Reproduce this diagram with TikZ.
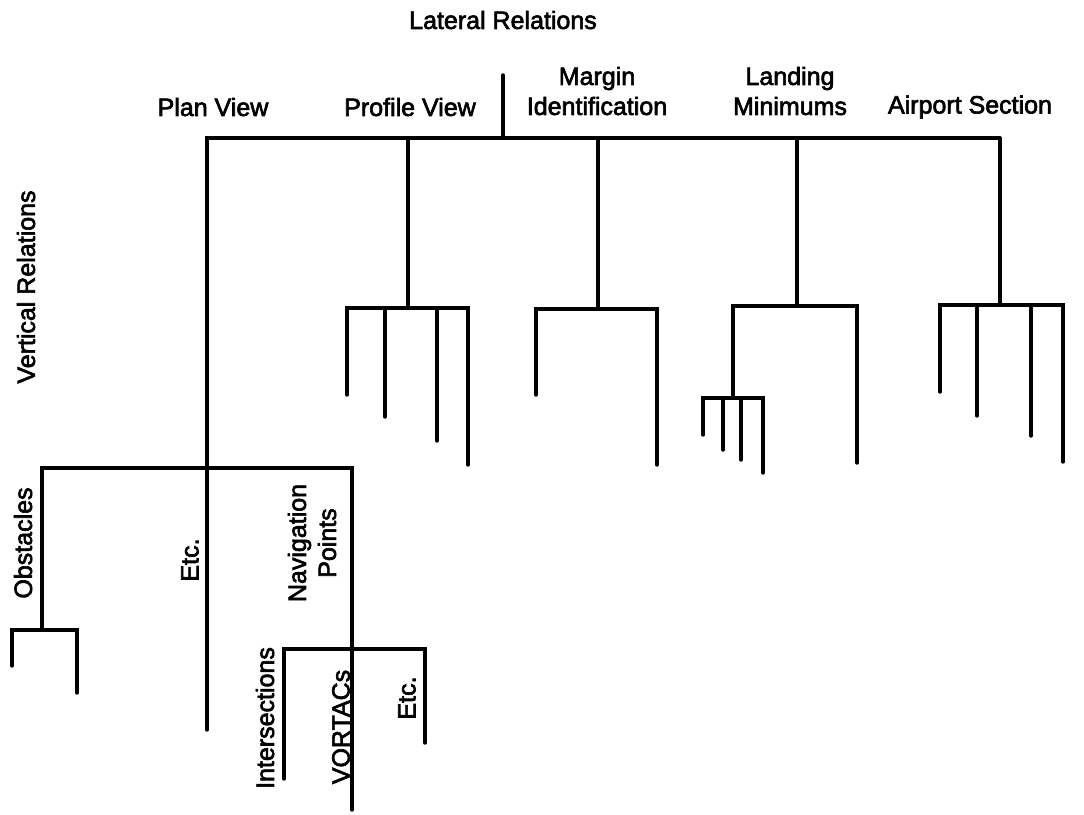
\documentclass[tikz,border=0pt]{standalone}
\usepackage{fontspec}
\setmainfont{Liberation Sans}
\newfontfamily\lblfont[FakeBold=2.5]{Liberation Sans}
\begin{document}
\begin{tikzpicture}[x=1pt,y=-1pt,
  lbl/.style={inner sep=0pt, font=\lblfont\fontsize{25}{30}\selectfont, align=center},
  vlbl/.style={lbl, rotate=90},
  br/.style={line width=3.4pt, line cap=round}]
\useasboundingbox (0,0) rectangle (1084,814);
% labels
\node[lbl] (lat) at (503,20) {Lateral Relations};
\node[lbl] (plan) at (213,107) {Plan View};
\node[lbl] (prof) at (410,107) {Profile View};
\node[lbl] (marg) at (597,91) {Margin\\Identification};
\node[lbl] (land) at (790,91) {Landing\\Minimums};
\node[lbl] (airp) at (970,107) {Airport Section};
\node[vlbl] (vert) at (26,287) {Vertical Relations};
\node[vlbl] (obst) at (23,543) {Obstacles};
\node[vlbl] (etc1) at (190,560) {Etc.};
\node[vlbl] (navp) at (312,543) {Navigation\\Points};
\node[vlbl] (inter) at (265,718) {Intersections};
\node[vlbl] (vort) at (341,727) {VORTACs};
\node[vlbl] (etc2) at (407,698) {Etc.};
% tree coordinates
\coordinate (root) at (503,75);
\coordinate (rootJ) at (503,138);
\coordinate (mL) at (207,138);
\coordinate (mR) at (1000,138);
% plan view
\coordinate (pvEnd) at (207,730);
\coordinate (pvJ) at (207,468);
\coordinate (bL) at (42,468);
\coordinate (bR) at (352,468);
\coordinate (obJ) at (42,630);
\coordinate (obL) at (12,630);
\coordinate (obR) at (77,630);
\coordinate (obLe) at (12,666);
\coordinate (obRe) at (77,693);
\coordinate (navJ) at (352,649);
\coordinate (navEnd) at (352,810);
\coordinate (nvL) at (284,649);
\coordinate (nvR) at (425,649);
\coordinate (nvLe) at (284,779);
\coordinate (nvRe) at (425,743);
% profile view
\coordinate (prT) at (408,138);
\coordinate (prJ) at (408,308);
\coordinate (pr1) at (347,308); \coordinate (pr1e) at (347,395);
\coordinate (pr2) at (385,308); \coordinate (pr2e) at (385,417);
\coordinate (pr3) at (437,308); \coordinate (pr3e) at (437,441);
\coordinate (pr4) at (468,308); \coordinate (pr4e) at (468,465);
% margin identification
\coordinate (maT) at (598,138);
\coordinate (maJ) at (598,309);
\coordinate (ma1) at (536,309); \coordinate (ma1e) at (536,395);
\coordinate (ma2) at (657,309); \coordinate (ma2e) at (657,465);
% landing minimums
\coordinate (laT) at (797,138);
\coordinate (laJ) at (797,306);
\coordinate (la1) at (733,306); \coordinate (la1J) at (733,398);
\coordinate (la2) at (857,306); \coordinate (la2e) at (857,463);
\coordinate (ls1) at (703,398); \coordinate (ls1e) at (703,435);
\coordinate (ls2) at (723,398); \coordinate (ls2e) at (723,450);
\coordinate (ls3) at (741,398); \coordinate (ls3e) at (741,460);
\coordinate (ls4) at (763,398); \coordinate (ls4e) at (763,473);
% airport section
\coordinate (apT) at (1000,138);
\coordinate (apJ) at (1000,305);
\coordinate (ap1) at (940,305); \coordinate (ap1e) at (940,392);
\coordinate (ap2) at (977,305); \coordinate (ap2e) at (977,416);
\coordinate (ap3) at (1031,305); \coordinate (ap3e) at (1031,436);
\coordinate (ap4) at (1063,305); \coordinate (ap4e) at (1063,462);
% connectors
\draw[br] (root) -- (rootJ);
\draw[br] (pvEnd) -- (mL) -- (mR);
\draw[br] (obJ) -- (bL) -- (bR) -- (navEnd);
\draw[br] (obLe) -- (obL) -- (obR) -- (obRe);
\draw[br] (nvLe) -- (nvL) -- (nvR) -- (nvRe);
\draw[br] (prT) -- (prJ);
\draw[br] (pr1e) -- (pr1) -- (pr4) -- (pr4e);
\draw[br] (pr2) -- (pr2e);
\draw[br] (pr3) -- (pr3e);
\draw[br] (maT) -- (maJ);
\draw[br] (ma1e) -- (ma1) -- (ma2) -- (ma2e);
\draw[br] (laT) -- (laJ);
\draw[br] (la1J) -- (la1) -- (la2) -- (la2e);
\draw[br] (ls1e) -- (ls1) -- (ls4) -- (ls4e);
\draw[br] (ls2) -- (ls2e);
\draw[br] (ls3) -- (ls3e);
\draw[br] (apT) -- (apJ);
\draw[br] (ap1e) -- (ap1) -- (ap4) -- (ap4e);
\draw[br] (ap2) -- (ap2e);
\draw[br] (ap3) -- (ap3e);
\end{tikzpicture}
\end{document}
